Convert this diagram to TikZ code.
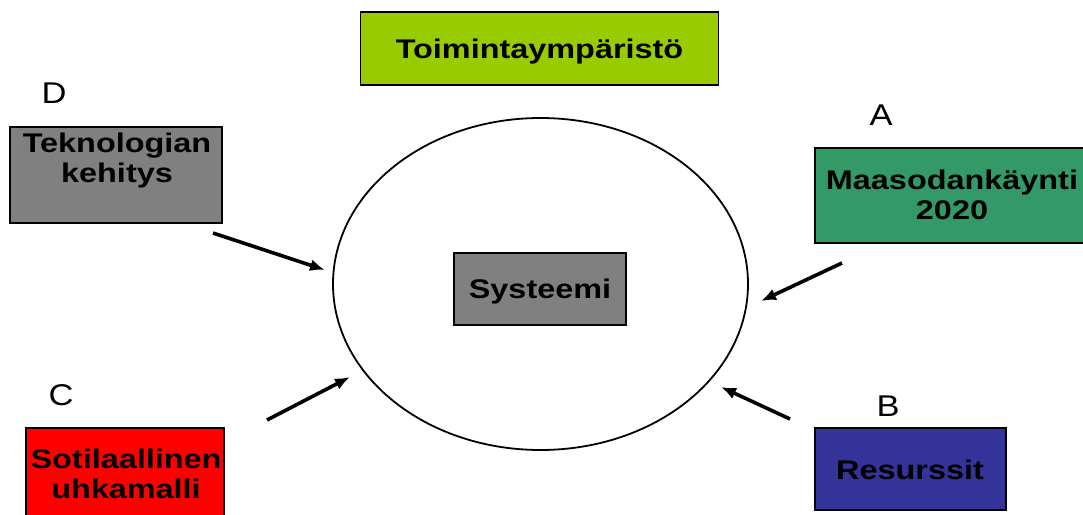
\documentclass[tikz,border=0pt]{standalone}
\usepackage{fontspec}
\usetikzlibrary{arrows.meta,shapes.geometric}
\newfontfamily\bxfont{Liberation Sans Bold}[FakeStretch=1.2]
\newfontfamily\lbfont{Liberation Sans}[FakeStretch=1.15]
\definecolor{cgreen}{HTML}{99CC00}
\definecolor{cgrey}{HTML}{808080}
\definecolor{csea}{HTML}{339966}
\definecolor{cred}{HTML}{FF0000}
\definecolor{cblue}{HTML}{333399}
\tikzset{
  boxnode/.style={draw=black, line width=1.8pt, inner sep=0pt},
  boxtext/.style={font=\bxfont\fontsize{27}{30}\selectfont, align=center, inner sep=0pt},
  lettertext/.style={font=\lbfont\fontsize{30}{34}\selectfont, inner sep=0pt},
  inarrow/.style={line width=3.6pt, -{Latex[length=15pt,width=12pt]}},
}
\begin{document}
\begin{tikzpicture}[x=1pt,y=-1pt]
\useasboundingbox[fill=white] (0,0) rectangle (1083,514);
% environment ellipse
\node[draw, line width=1.8pt, ellipse, minimum width=415pt, minimum height=332pt, inner sep=0pt] (env) at (540.5,284) {};
% boxes
\node[boxnode, fill=cgreen, minimum width=358pt, minimum height=73pt] (toim) at (539.5,48.5) {};
\node[boxtext, anchor=base] (toimt) at (539.5,58) {Toimintaympäristö};
\node[boxnode, fill=cgrey, minimum width=172pt, minimum height=72pt] (sys) at (540,289) {};
\node[boxtext, anchor=base] (syst) at (540,298) {Systeemi};
\node[boxnode, fill=cgrey, minimum width=212pt, minimum height=96pt] (tek) at (116,175) {};
\node[boxtext] (tekt) at (117,161) {Teknologian\\kehitys};
\node[boxnode, fill=csea, minimum width=275pt, minimum height=95pt] (maa) at (952.5,195.5) {};
\node[boxtext] (maat) at (952,195) {Maasodankäynti\\2020};
\node[boxnode, fill=cred, minimum width=198pt, minimum height=100pt] (sot) at (125,478) {};
\node[boxtext] (sott) at (126,474) {Sotilaallinen\\uhkamalli};
\node[boxnode, fill=cblue, minimum width=191pt, minimum height=82pt] (res) at (910.5,469) {};
\node[boxtext, anchor=base] (rest) at (910,479) {Resurssit};
% letters
\node[lettertext, anchor=base] (ld) at (54,103) {D};
\node[lettertext, anchor=base] (la) at (881,125) {A};
\node[lettertext, anchor=base] (lb) at (888,416) {B};
\node[lettertext, anchor=base] (lc) at (61,405) {C};
% arrow end points
\coordinate (d1) at (213,233); \coordinate (d2) at (325,270);
\coordinate (a1) at (842,263); \coordinate (a2) at (761,301);
\coordinate (c1) at (267,420); \coordinate (c2) at (350,377);
\coordinate (b1) at (790,419); \coordinate (b2) at (721,387);
\draw[inarrow] (d1) -- (d2);
\draw[inarrow] (a1) -- (a2);
\draw[inarrow] (c1) -- (c2);
\draw[inarrow] (b1) -- (b2);
\end{tikzpicture}
\end{document}
